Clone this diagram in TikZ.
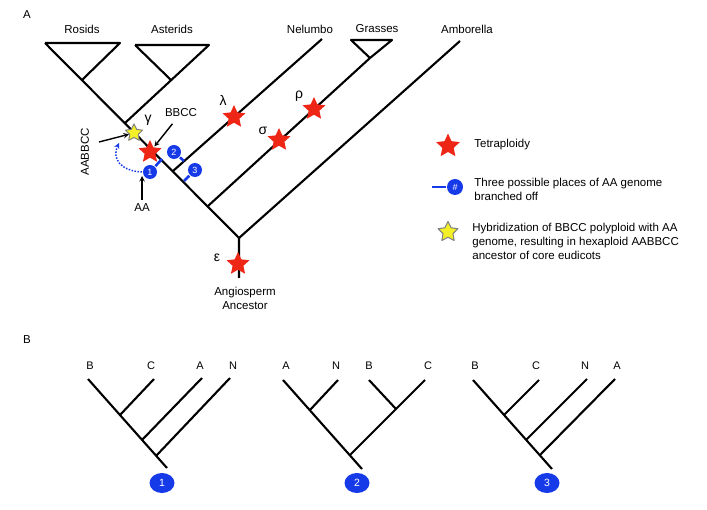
\documentclass[tikz,border=0pt]{standalone}
\usepackage{fontspec}
\setmainfont{Liberation Sans}
\usetikzlibrary{shapes.geometric}
\definecolor{starred}{RGB}{238,38,22}
\definecolor{placeblue}{RGB}{22,58,232}
\definecolor{staryellow}{RGB}{244,240,40}
\begin{document}
\begin{tikzpicture}[x=1pt,y=-1pt,line join=round,>=stealth,line width=2.1pt]
	\tikzset{every node/.style={font=\fontsize{11.5}{14}\selectfont},
		tetra/.style={star,star points=5,star point ratio=2.1,minimum size=24pt,inner sep=0pt,fill=starred},
		hybrid/.style={star,star points=5,star point ratio=2.0,minimum size=18pt,inner sep=0pt,fill=staryellow,draw=gray,line width=1pt},
		place/.style={circle,fill=placeblue,text=white,minimum size=14pt,inner sep=0pt,font=\fontsize{9}{9}\selectfont},
		bigplace/.style={ellipse,fill=placeblue,text=white,minimum width=25pt,minimum height=20pt,inner sep=0pt,font=\fontsize{10.5}{10}\selectfont},
		stub/.style={draw=placeblue,line width=2.6pt},
		arr/.style={->,line width=1.4pt},
		greek/.style={font=\fontsize{14}{14}\selectfont}}
	\useasboundingbox (0,0) rectangle (707,510);
	\node (panelA) at (27,15) {A};
	\node (panelB) at (27,340) {B};
	\begin{scope}
		\coordinate (rosL) at (45,43); \coordinate (rosR) at (120,43); \coordinate (rosJ) at (82,80);
		\coordinate (astL) at (135,45); \coordinate (astR) at (209,45); \coordinate (astJ) at (171,80); \coordinate (astB) at (125,123);
		\coordinate (nelT) at (322,39); \coordinate (nelB) at (173,171);
		\coordinate (graL) at (351,40); \coordinate (graR) at (392,40); \coordinate (graJ) at (370,58); \coordinate (graB) at (208,206);
		\coordinate (ambT) at (460,41); \coordinate (root) at (239,238); \coordinate (base) at (239,278);
		\draw (rosL)--(root)--(base) (rosL)--(rosR)--(rosJ) (astL)--(astR)--(astB) (astL)--(astJ);
		\draw (nelT)--(nelB) (graL)--(graR)--(graJ)--cycle (graJ)--(graB) (ambT)--(root);
		\node (rosids) at (82,29) {Rosids}; \node (asterids) at (172,29) {Asterids}; \node (nelumbo) at (310,29) {Nelumbo};
		\node (grasses) at (377,29) {Grasses}; \node (amborella) at (467,29) {Amborella};
		\node[align=center] (ancestor) at (245,298) {Angiosperm\\Ancestor};
		\node[place] (p1) at (150,172) {1}; \node[place] (p2) at (174,152) {2}; \node[place] (p3) at (195,170) {3};
		\coordinate (s1) at (162,159); \coordinate (s2) at (184,161); \coordinate (s3) at (184,181);
		\draw[stub] (p1)--(s1) (p2)--(s2) (p3)--(s3);
		\node[tetra] (bbccstar) at (150,152) {}; \node[hybrid] (hyb) at (134,133) {};
		\node[tetra] (lambda) at (234,117) {}; \node[tetra] (sigma) at (279,140) {};
		\node[tetra] (rho) at (314,109) {}; \node[tetra] (eps) at (238,264) {};
		\node[greek] (gammalab) at (148,120) {γ}; \node[greek] (lambdalab) at (223,100) {λ};
		\node[greek] (sigmalab) at (263,131) {σ}; \node[greek] (rholab) at (299,96) {ρ}; \node[greek] (epslab) at (217,258) {ε};
		\node (bbcc) at (181,113) {BBCC}; \node (aa) at (142,208) {AA};
		\node[rotate=90] (aabbcc) at (85,152) {AABBCC};
		\coordinate (aabbccE) at (99,142); \coordinate (aaE) at (142,176); \coordinate (curveE) at (119,143);
		\draw[arr] (aabbccE)--(hyb); \draw[arr,shorten <=3pt] (bbcc)--(bbccstar); \draw[arr] (aa.north)--(aaE);
		\draw[->,draw=placeblue,line width=1.5pt,dash pattern=on 1.5pt off 1.5pt] (p1.west) .. controls (120,171) and (112,158) .. (curveE);
	\end{scope}
	\node[tetra,minimum size=25pt] (lgtetra) at (448,146) {}; \node[anchor=west] (lgtetratxt) at (470,145) {Tetraploidy};
	\node[place,minimum size=16pt] (lgplace) at (455,187) {\#}; \coordinate (lgstub) at (432,187); \draw[stub] (lgstub)--(lgplace);
	\node[anchor=west,align=left] (lgplacetxt) at (470,189) {Three possible places of AA genome\\branched off};
	\node[hybrid,minimum size=21pt] (lghyb) at (448,232) {};
	\node[anchor=west,align=left] (lghybtxt) at (468,241) {Hybridization of BBCC polyploid with AA\\genome, resulting in hexaploid AABBCC\\ancestor of core eudicots};
	\foreach \x/\t in {90/B,151/C,200/A,233/N,286/A,336/N,369/B,428/C,475/B,536/C,585/N,617/A}
		\node[font=\fontsize{11}{12}\selectfont] (tip\x) at (\x,366) {\t};
	\coordinate (B1) at (88,379); \coordinate (C1) at (154,379); \coordinate (A1) at (202,378); \coordinate (N1) at (230,378);
	\coordinate (c1) at (120,415); \coordinate (a1) at (142,440); \coordinate (n1) at (156,456); \coordinate (bot1) at (167,468);
	\draw (B1)--(bot1) (C1)--(c1) (A1)--(a1) (N1)--(n1);
	\coordinate (A2) at (283,380); \coordinate (N2) at (338,380); \coordinate (B2) at (369,380); \coordinate (C2) at (425,380);
	\coordinate (n2) at (310,410); \coordinate (bc2) at (396,409); \coordinate (j2) at (350,455); \coordinate (bot2) at (362,469);
	\draw (A2)--(bot2) (N2)--(n2) (B2)--(bc2) (C2)--(bc2)--(j2);
	\coordinate (B3) at (473,380); \coordinate (C3) at (539,380); \coordinate (N3) at (587,379); \coordinate (A3) at (615,379);
	\coordinate (c3) at (504,415); \coordinate (n3) at (526,440); \coordinate (a3) at (540,455); \coordinate (bot3) at (552,469);
	\draw (B3)--(bot3) (C3)--(c3) (N3)--(n3) (A3)--(a3);
	\node[bigplace] (q1) at (162,483) {1}; \node[bigplace] (q2) at (357,483) {2}; \node[bigplace] (q3) at (547,483) {3};
\end{tikzpicture}
\end{document}
